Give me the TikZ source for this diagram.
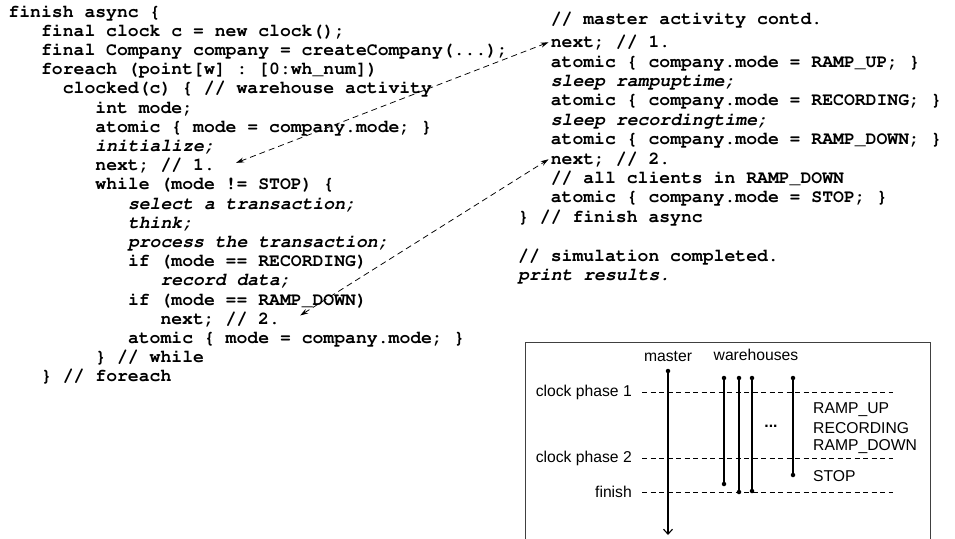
\documentclass[tikz,border=0pt]{standalone}
\usepackage[T1]{fontenc}
\usepackage{fontspec}
\setmainfont{Liberation Sans}
\newcommand\courfam{\fontencoding{T1}\fontfamily{pcr}\selectfont}
\usetikzlibrary{arrows.meta}
\tikzset{
  code/.style={font=\courfam\bfseries\frenchspacing\fontsize{18.1}{20}\selectfont, anchor=base west, inner sep=0pt},
  codeit/.style={code, font=\courfam\bfseries\itshape\frenchspacing\fontsize{18.1}{20}\selectfont},
  lbl/.style={font=\fontsize{15.7}{18}\selectfont, inner sep=0pt},
  sync/.style={dash pattern=on 6pt off 4pt, line width=0.75pt, {Stealth[length=8pt,width=5pt]}-{Stealth[length=8pt,width=5pt]}},
  phase/.style={line width=0.8pt, dash pattern=on 5pt off 3.5pt},
  life/.style={line width=1.1pt},
  dot/.style={circle, fill=black, inner sep=0pt, minimum size=4.5pt},
  frame/.style={draw=black!75, line width=1pt}
}
\begin{document}
\begin{tikzpicture}[x=1pt,y=-1pt]
\useasboundingbox (0,0) rectangle (955,538);
% left column: x = 8.3 + 10.86*col, baseline = 17 + 19.2*(k-1)
\node[code]   (L1)  at (8.3,17)     {finish async \{};
\node[code]   (L2)  at (40.9,36.2)  {final clock c = new clock();};
\node[code]   (L3)  at (40.9,55.4)  {final Company company = createCompany(...);};
\node[code]   (L4)  at (40.9,74.6)  {foreach (point[w] : [0:wh\_num])};
\node[code]   (L5)  at (62.6,93.8)  {clocked(c) \{ // warehouse activity};
\node[code]   (L6)  at (95.2,113)   {int mode;};
\node[code]   (L7)  at (95.2,132.2) {atomic \{ mode = company.mode; \}};
\node[codeit] (L8)  at (95.2,151.4) {initialize;};
\node[code]   (L9)  at (95.2,170.6) {next; // 1.};
\node[code]   (L10) at (95.2,189.8) {while (mode != STOP) \{};
\node[codeit] (L11) at (127.8,209)  {select a transaction;};
\node[codeit] (L12) at (127.8,228.2){think;};
\node[codeit] (L13) at (127.8,247.4){process the transaction;};
\node[code]   (L14) at (127.8,266.6){if (mode == RECORDING)};
\node[codeit] (L15) at (160.3,285.8){record data;};
\node[code]   (L16) at (127.8,305)  {if (mode == RAMP\_DOWN)};
\node[code]   (L17) at (160.3,324.2){next; // 2.};
\node[code]   (L18) at (127.8,343.4){atomic \{ mode = company.mode; \}};
\node[code]   (L19) at (95.2,362.6) {\} // while};
\node[code]   (L20) at (40.9,381.8) {\} // foreach};
% right column: x = 518 + 10.86*col
\node[code]   (R1)  at (550.6,24)    {// master activity contd.};
\node[code]   (R2)  at (550.6,47)    {next; // 1.};
\node[code]   (R3)  at (550.6,67)    {atomic \{ company.mode = RAMP\_UP; \}};
\node[codeit] (R4)  at (550.6,86.4)  {sleep rampuptime;};
\node[code]   (R5)  at (550.6,105.8) {atomic \{ company.mode = RECORDING; \}};
\node[codeit] (R6)  at (550.6,125.2) {sleep recordingtime;};
\node[code]   (R7)  at (550.6,144.6) {atomic \{ company.mode = RAMP\_DOWN; \}};
\node[code]   (R8)  at (550.6,164)   {next; // 2.};
\node[code]   (R9)  at (550.6,183.4) {// all clients in RAMP\_DOWN};
\node[code]   (R10) at (550.6,202.8) {atomic \{ company.mode = STOP; \}};
\node[code]   (R11) at (518,222.2)   {\} // finish async};
\node[code]   (R13) at (518,261)     {// simulation completed.};
\node[codeit] (R14) at (518,280.4)   {print results.};
% synchronisation arrows
\draw[sync] ([xshift=21pt,yshift=3pt]L9.east) -- ([xshift=-2pt]R2.west);
\draw[sync] ([xshift=20pt,yshift=4pt]L17.east) -- ([xshift=-2pt]R8.west);
% box
\draw[frame] (525,548) -- (525,342) -- (930,342) -- (930,548);
\node[lbl] (master) at (668,356) {master};
\node[lbl] (wh) at (756,355) {warehouses};
\node[lbl, anchor=east] (cp1) at (632,392) {clock phase 1};
\node[lbl, anchor=east] (cp2) at (632,458) {clock phase 2};
\node[lbl, anchor=east] (fin) at (632,492) {finish};
\coordinate (cp1e) at (893,392);
\coordinate (cp2e) at (893,458);
\coordinate (fine) at (893,492);
\draw[phase] ([xshift=10pt]cp1.east) -- (cp1e);
\draw[phase] ([xshift=10pt]cp2.east) -- (cp2e);
\draw[phase] ([xshift=10pt]fin.east) -- (fine);
\node[lbl, anchor=west] (ru) at (813,410) {RAMP\_UP};
\node[lbl, anchor=west] (rc) at (813,428) {RECORDING};
\node[lbl, anchor=west] (rd) at (813,447) {RAMP\_DOWN};
\node[lbl, anchor=west] (st) at (813,476) {STOP};
\node[lbl] (dots) at (771,426) {\textbf{...}};
% master lifeline
\node[dot] (m0) at (668,371) {};
\coordinate (m1) at (668,535);
\draw[life, -{Straight Barb[length=5pt,width=9pt]}] (m0.center) -- (m1);
% warehouse lifelines
\node[dot] (w1a) at (724,378) {}; \node[dot] (w1b) at (724,484) {};
\node[dot] (w2a) at (739,378) {}; \node[dot] (w2b) at (739,492) {};
\node[dot] (w3a) at (752,378) {}; \node[dot] (w3b) at (752,491) {};
\node[dot] (w4a) at (793,378) {}; \node[dot] (w4b) at (793,475) {};
\draw[life] (w1a.center) -- (w1b.center);
\draw[life] (w2a.center) -- (w2b.center);
\draw[life] (w3a.center) -- (w3b.center);
\draw[life] (w4a.center) -- (w4b.center);
\end{tikzpicture}
\end{document}
